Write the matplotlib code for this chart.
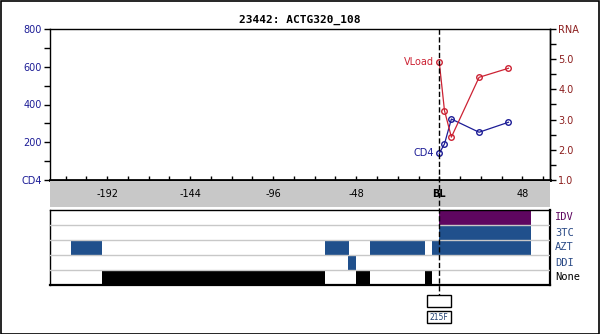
import matplotlib
matplotlib.use("Agg")
import matplotlib.pyplot as plt
from matplotlib import transforms
from matplotlib.lines import Line2D
from matplotlib.patches import Rectangle
from matplotlib.ticker import MultipleLocator

W, H = 600, 334

TITLE = "23442: ACTG320_108"

# follow-up visits, days from baseline
DAYS = [0, 3, 7, 23, 40]
CD4 = [141, 191, 323, 253, 306]
VLOAD = [4.9, 3.3, 2.42, 4.4, 4.7]

X_MIN, X_MAX = -225, 64
X_TICKS = [-192, -144, -96, -48, 0, 48]
X_TICK_LABELS = ["-192", "-144", "-96", "-48", "BL", "48"]

CD4_TICKS = [0, 200, 400, 600, 800]
CD4_TICK_LABELS = ["CD4", "200", "400", "600", "800"]
RNA_TICKS = [1, 2, 3, 4, 5, 6]
RNA_TICK_LABELS = ["1.0", "2.0", "3.0", "4.0", "5.0", "RNA"]

# treatment history, (start day, end day)
DRUGS = ["IDV", "3TC", "AZT", "DDI", "None"]
IDV_SPANS = [(0, 53)]
TC3_SPANS = [(0, 53)]
AZT_SPANS = [(-213, -195), (-66, -52), (-40, -8), (-4, 53)]
DDI_SPANS = [(-53, -48)]
NONE_SPANS = [(-195, -66), (-48, -40), (-8, -4)]
DRUG_SPANS = [IDV_SPANS, TC3_SPANS, AZT_SPANS, DDI_SPANS, NONE_SPANS]

MUTATIONS = ["215F"]
MUTATION_DAYS = [0]

RED, NAVY, DARKRED = "#cc2233", "#1c1c96", "#8b1c1c"
PURPLE, BARBLUE = "#5e0660", "#20508c"
DRUG_COLORS = [PURPLE, BARBLUE, BARBLUE, BARBLUE, "black"]
LABEL_COLORS = [PURPLE, "#2a4a86", "#2a4a86", "#2a4a86", "black"]

plt.rcParams["font.family"] = "DejaVu Sans"

fig = plt.figure(figsize=(W / 100, H / 100), dpi=100)
fig.patch.set_facecolor("white")


def px_axes(x0, y0, x1, y1):
    return fig.add_axes([x0 / W, 1 - y1 / H, (x1 - x0) / W, (y1 - y0) / H])


# --- lab values ---
ax = px_axes(50, 29, 550, 180)
ax.set_xlim(X_MIN, X_MAX)
ax.set_ylim(0, 800)
ax.plot(DAYS, CD4, color=NAVY, lw=0.9, marker="o", ms=4, mfc="none",
        mec=NAVY, mew=1, zorder=4)
ax.set_yticks(CD4_TICKS, CD4_TICK_LABELS, fontsize=7, color=NAVY)
ax.yaxis.set_minor_locator(MultipleLocator(100))
ax.tick_params(axis="y", which="both", direction="out", length=4, width=1,
               colors="black", labelcolor=NAVY, pad=2)
ax.set_xticks(X_TICKS, [])
ax.xaxis.set_minor_locator(MultipleLocator(12))
ax.tick_params(axis="x", which="both", direction="in", length=3, width=1,
               bottom=True, top=False)
for s in ("left", "right", "top"):
    ax.spines[s].set_linewidth(1)
ax.spines["bottom"].set_linewidth(2)
ax.annotate("CD4", (DAYS[0], CD4[0]), xytext=(-4, 0), textcoords="offset points",
            ha="right", va="center", fontsize=7, color=NAVY)

rna = ax.twinx()
rna.set_ylim(1, 6)
rna.plot(DAYS, VLOAD, color=RED, lw=0.9, marker="o", ms=4, mfc="none",
         mec=RED, mew=1, zorder=4)
rna.set_yticks(RNA_TICKS, RNA_TICK_LABELS, fontsize=7)
rna.yaxis.set_minor_locator(MultipleLocator(0.5))
rna.tick_params(axis="y", which="both", direction="out", length=4, width=1,
                labelcolor=DARKRED, pad=2)
rna.annotate("VLoad", (DAYS[0], VLOAD[0]), xytext=(-4, 0), textcoords="offset points",
             ha="right", va="center", fontsize=7, color=RED)
for s in rna.spines.values():
    s.set_visible(False)
rna.spines["right"].set_visible(True)
rna.spines["right"].set_linewidth(1)

# --- gray day scale ---
band = px_axes(50, 181, 550, 207)
band.set_xlim(X_MIN, X_MAX)
band.set_ylim(0, 1)
band.set_facecolor("#c8c8c8")
band.set_xticks([])
band.set_yticks([])
for s in band.spines.values():
    s.set_visible(False)
for d, lab in zip(X_TICKS, X_TICK_LABELS):
    band.text(d, 0.5, lab, ha="center", va="center", fontsize=7,
              fontweight="bold" if lab == "BL" else "normal")

# --- treatment panel ---
tx = px_axes(50, 210, 550, 285)
tx.set_xlim(X_MIN, X_MAX)
tx.set_ylim(len(DRUGS), 0)
for row, (spans, col) in enumerate(zip(DRUG_SPANS, DRUG_COLORS)):
    for start, end in spans:
        tx.barh(row + 0.5, end - start, left=start, height=0.94, color=col,
                linewidth=0, zorder=2)
for row in range(1, len(DRUGS)):
    tx.axhline(row, color="#c8c8c8", lw=1, zorder=3)
for row, (name, col) in enumerate(zip(DRUGS, LABEL_COLORS)):
    tx.text(1.01, row + 0.5, name, transform=tx.get_yaxis_transform(),
            ha="left", va="center", fontsize=7.5, color=col,
            family="DejaVu Sans Mono")
tx.set_xticks([])
tx.set_yticks([])
for s in ("top", "left"):
    tx.spines[s].set_linewidth(1)
for s in ("right", "bottom"):
    tx.spines[s].set_linewidth(1.6)

# baseline marker running down to the mutation boxes
bl = transforms.blended_transform_factory(ax.transData, fig.transFigure)
fig.add_artist(Line2D([0, 0], [1 - 29 / H, 1 - 295 / H], transform=bl,
                      color="black", lw=1, dashes=(3.8, 1.8), zorder=10))
for d, mut in zip(MUTATION_DAYS, MUTATIONS):
    fig.add_artist(Rectangle((d - 7, 1 - 307 / H), 14, 12 / H, transform=bl,
                             facecolor="white", edgecolor="black", lw=1, zorder=11))
    fig.add_artist(Rectangle((d - 7, 1 - 323 / H), 14, 12 / H, transform=bl,
                             facecolor="white", edgecolor="black", lw=1, zorder=11))
    fig.text(d, 1 - 317 / H, mut, transform=bl, ha="center", va="center",
             fontsize=5.5, color="#1f3f70", zorder=12)

fig.text(0.5, 1 - 20 / H, TITLE, ha="center", va="center", fontsize=8,
         fontweight="bold", family="DejaVu Sans Mono")

fig.add_artist(Rectangle((0.5 / W, 0.5 / H), 1 - 1.5 / W, 1 - 1.5 / H,
                         transform=fig.transFigure, fill=False,
                         edgecolor="black", lw=1.2))

fig.savefig("out.png", dpi=100, facecolor="white")
